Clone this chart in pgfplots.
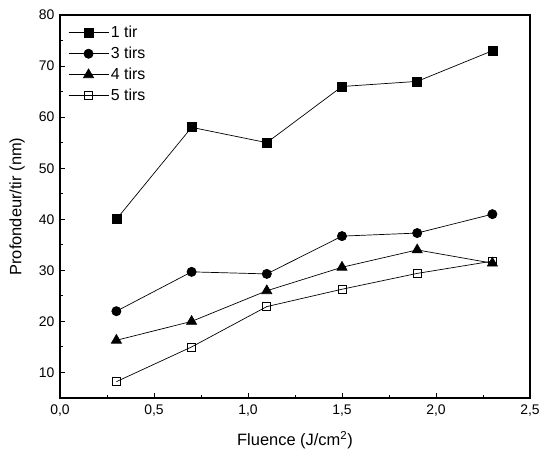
\documentclass[border=0pt]{standalone}
\usepackage{fontspec}
\setmainfont{Liberation Sans}
\usepackage{pgfplots}
\pgfplotsset{compat=1.18}
\begin{document}
\begin{tikzpicture}[x=1bp,y=1bp]
\useasboundingbox (-60bp,-59bp) rectangle (480bp,398bp);
\begin{axis}[
  at={(0bp,0bp)}, anchor=south west,
  scale only axis,
  width=470bp, height=383bp,
  xmin=0, xmax=2.5, ymin=5, ymax=80,
  xtick={0,0.5,...,2.5},
  ytick={10,20,...,80},
  minor x tick num=1,
  minor y tick num=1,
  tick align=inside,
  xtick pos=bottom, ytick pos=left,
  major tick length=5bp, minor tick length=3bp,
  axis line style={line width=1.1bp},
  every tick/.style={black, line width=0.9bp},
  /pgf/number format/assume math mode=true,
  /pgf/number format/use comma,
  /pgf/number format/fixed,
  /pgf/number format/fixed zerofill,
  /pgf/number format/precision=1,
  yticklabel style={/pgf/number format/precision=0, /pgf/number format/fixed zerofill=false, font=\fontsize{14}{16}\selectfont, xshift=-2bp},
  xticklabel style={font=\fontsize{14}{16}\selectfont, yshift=-3bp},
  xlabel={Fluence (J/cm\textsuperscript{2})},
  ylabel={Profondeur/tir (nm)},
  every axis x label/.style={at={(rel axis cs:0.5,0)}, yshift=-42bp, anchor=center, font=\fontsize{16.5}{18}\selectfont},
  every axis y label/.style={at={(rel axis cs:0,0.5)}, xshift=-43bp, anchor=center, rotate=90, font=\fontsize{16.5}{18}\selectfont},
  legend style={draw=none, fill=none, at={(8bp,376bp)}, anchor=north west, font=\fontsize{16}{18}\selectfont, row sep=4bp, inner xsep=0bp},
  legend cell align=left,
  legend image code/.code={\draw[mark=none] (0bp,0bp) -- (40bp,0bp); \draw plot[only marks] coordinates {(20bp,0bp)};},
]
\addplot[black, line width=0.7bp, mark=square*, mark size=4.5bp, mark options={solid, fill=black}] coordinates {(0.3,40) (0.7,58) (1.1,55) (1.5,66) (1.9,67) (2.3,73)};
\addlegendentry{1 tir}
\addplot[black, line width=0.7bp, mark=*, mark size=4.6bp, mark options={solid, fill=black}] coordinates {(0.3,22) (0.7,29.7) (1.1,29.3) (1.5,36.7) (1.9,37.3) (2.3,41)};
\addlegendentry{3 tirs}
\addplot[black, line width=0.7bp, mark=triangle*, mark size=5.8bp, mark options={solid, fill=black}] coordinates {(0.3,16.3) (0.7,20) (1.1,26) (1.5,30.6) (1.9,34) (2.3,31.4)};
\addlegendentry{4 tirs}
\addplot[black, line width=0.7bp, mark=square, mark size=4bp, mark options={solid, fill=white, line width=0.8bp}] coordinates {(0.3,8.2) (0.7,15) (1.1,22.9) (1.5,26.3) (1.9,29.4) (2.3,31.8)};
\addlegendentry{5 tirs}
\end{axis}
\end{tikzpicture}
\end{document}
